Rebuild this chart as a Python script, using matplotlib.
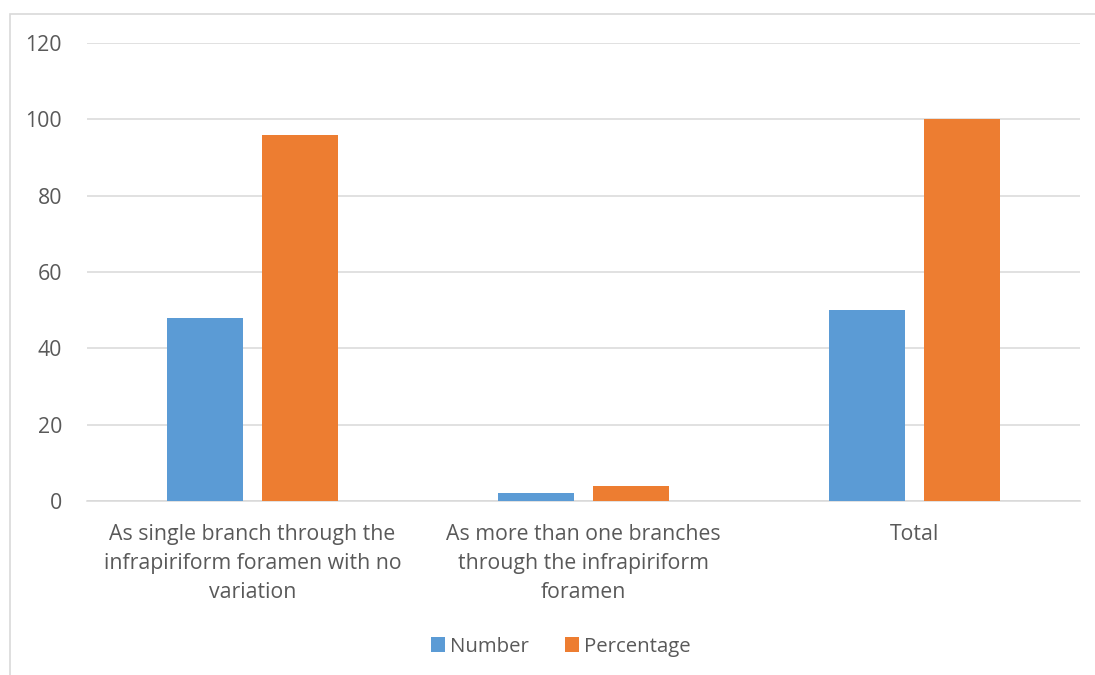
import numpy as np
import matplotlib
matplotlib.use("Agg")
import matplotlib.pyplot as plt
from matplotlib.patches import Rectangle

categories = [
    "As single branch through the\ninfrapiriform foramen with no\nvariation",
    "As more than one branches\nthrough the infrapiriform\nforamen",
    "Total",
]
number = [48, 2, 50]
percentage = [96, 4, 100]
yticks = [0, 20, 40, 60, 80, 100, 120]

BLUE = "#5B9BD5"
ORANGE = "#ED7D31"
TEXT = "#595959"
GRID = "#D9D9D9"

plt.rcParams["font.family"] = ["Open Sans", "DejaVu Sans"]
FS = 15.3

fig = plt.figure(figsize=(10.95, 6.75), dpi=100)
ax = fig.add_axes([0.0795, 0.2578, 0.9068, 0.6785])

x = np.arange(len(categories))
w = 0.227
off = 0.1435
ax.bar(x - off, number, width=w, color=BLUE, label="Number", zorder=3)
ax.bar(x + off, percentage, width=w, color=ORANGE, label="Percentage", zorder=3)

ax.set_xlim(-0.5, len(categories) - 0.5)
ax.set_ylim(0, 120)
ax.set_yticks(yticks)
ax.set_xticks(x)
ax.set_xticklabels(categories, fontsize=FS, color=TEXT, linespacing=1.5)
ax.tick_params(axis="y", labelsize=FS, colors=TEXT, length=0, pad=18)
ax.tick_params(axis="x", length=0, pad=16.5)
ax.grid(axis="y", color=GRID, linewidth=1.1, zorder=0)
for s in ["top", "right", "left"]:
    ax.spines[s].set_visible(False)
ax.spines["bottom"].set_color(GRID)
ax.spines["bottom"].set_linewidth(1.1)

leg = fig.legend(loc="center", bbox_to_anchor=(0.512, 0.042), ncol=2,
                 frameon=False, fontsize=14.7, handlelength=0.7,
                 handleheight=0.7, handletextpad=0.25, columnspacing=1.75)
for t in leg.get_texts():
    t.set_color(TEXT)

# outer chart border
fig.patches.append(Rectangle((10 / 1095, -0.05), 1.2, 1.05 - 14 / 675,
                             transform=fig.transFigure, fill=False,
                             edgecolor="#D9D9D9", linewidth=1.2))

plt.savefig("out.png", dpi=100)
plt.close()
